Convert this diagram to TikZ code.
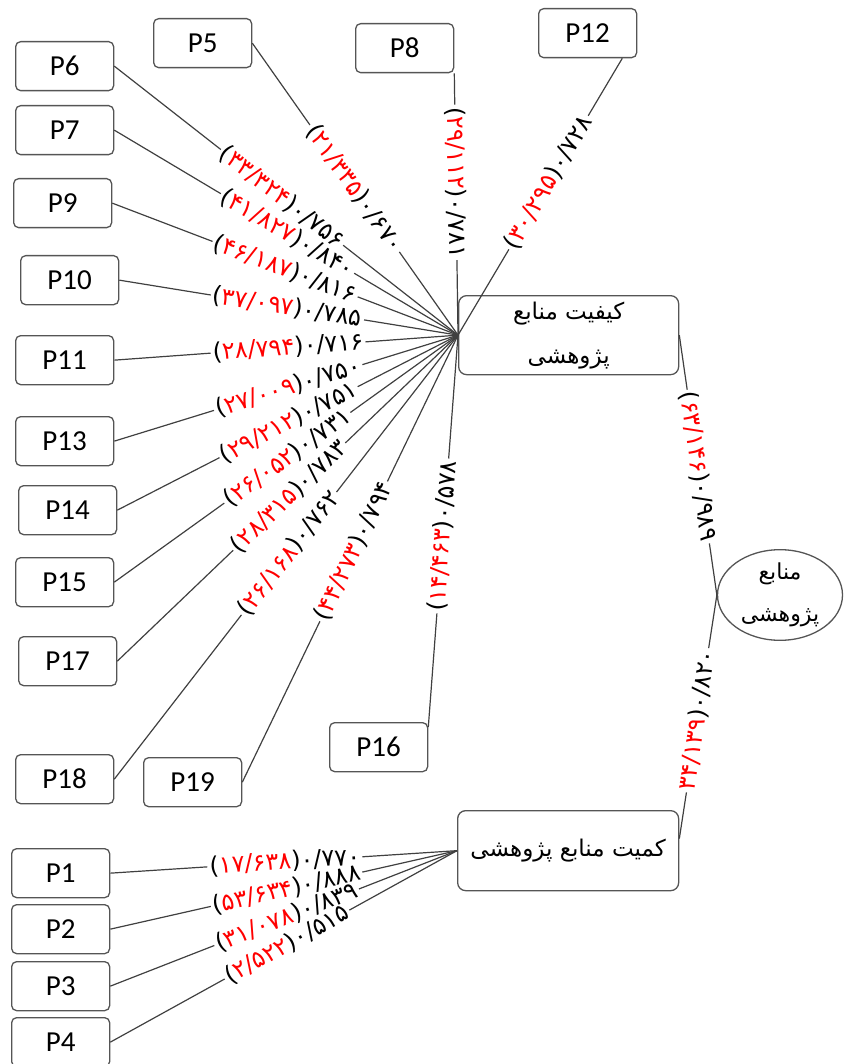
\documentclass[tikz,border=0pt]{standalone}
\usepackage{fontspec}
\usetikzlibrary{shapes.geometric}
\setmainfont{Carlito}
\newfontfamily\fa[Script=Arabic]{DejaVu Sans}
\newfontfamily\dig{DejaVu Sans}
\TeXXeTstate=1
\definecolor{edgegray}{HTML}{404040}
\definecolor{framegray}{HTML}{555555}
\definecolor{valred}{HTML}{FF0000}
% loading (t-value) label: black brackets, red t-value, black loading
\newcommand\val[2]{(\textcolor{valred}{#1})#2}
% connector with a sloped label that interrupts the line
\newcommand\vlink[5]{%
  \path (#1) -- (#2) node[lab,pos=#3] (#4) {#5};
  \draw[conn] (#1) -- (#4.west) (#4.east) -- (#2);}
\begin{document}
\begin{tikzpicture}[x=1pt,y=-1pt,
  pbox/.style={draw=framegray, line width=1.3pt, rounded corners=5pt,
    minimum width=98pt, minimum height=49pt, inner sep=0pt,
    anchor=north west, font=\fontsize{29}{32}\selectfont},
  mbox/.style={draw=framegray, line width=1.3pt, rounded corners=8pt,
    inner sep=0pt, anchor=north west, align=center,
    font=\fa\fontsize{23}{44}\selectfont},
  conn/.style={draw=edgegray, line width=1.2pt},
  lab/.style={font=\dig\fontsize{24}{26}\selectfont, inner sep=2pt,
    sloped, anchor=west}]
\useasboundingbox (0,0) rectangle (843,1064);

% indicator boxes
\node[pbox] (P5)  at (153,18)  {P5};
\node[pbox] (P6)  at (15,41)   {P6};
\node[pbox] (P8)  at (355,23)  {P8};
\node[pbox] (P12) at (538,8)   {P12};
\node[pbox] (P7)  at (15,105)  {P7};
\node[pbox] (P9)  at (13,178)  {P9};
\node[pbox] (P10) at (20,255)  {P10};
\node[pbox] (P11) at (15,335)  {P11};
\node[pbox] (P13) at (15,416)  {P13};
\node[pbox] (P14) at (18,485)  {P14};
\node[pbox] (P15) at (15,557)  {P15};
\node[pbox] (P17) at (18,636)  {P17};
\node[pbox] (P16) at (329,722) {P16};
\node[pbox] (P18) at (15,754)  {P18};
\node[pbox] (P19) at (143,757) {P19};
\node[pbox] (P1)  at (11,848)  {P1};
\node[pbox] (P2)  at (11,904)  {P2};
\node[pbox] (P3)  at (11,961)  {P3};
\node[pbox] (P4)  at (11,1017) {P4};

% construct boxes
\node[mbox, minimum width=220pt, minimum height=79pt] (q) at (458,295)
  {\beginR کیفیت منابع\endR\\\beginR پژوهشی\endR};
\node[mbox, minimum width=221pt, minimum height=80pt] (c) at (457,810)
  {\beginR کمیت منابع پژوهشی\endR};
\node[draw=framegray, line width=1.3pt, ellipse, minimum width=125pt,
  minimum height=83pt, inner sep=0pt, align=center,
  font=\fa\fontsize{22}{42}\selectfont] (e) at (780,595)
  {\beginR منابع\endR\\\beginR پژوهشی\endR};

\coordinate (h1) at (q.west);
\coordinate (h2) at (c.west);
\coordinate (s8) at (P8.south east);
\coordinate (s12) at ([xshift=-15pt]P12.south east);
\coordinate (s16) at ([yshift=-5pt]P16.north east);
\coordinate (qe) at (q.east);
\coordinate (ce) at ([yshift=12pt]c.east);
\coordinate (ew) at (e.west);

% quality indicators
\vlink{P5.east}{h1}{.28}{L5}{\val{۲۱/۳۳۵}{۰/۶۷۰}}
\vlink{P6.east}{h1}{.31}{L6}{\val{۳۳/۳۲۴}{۰/۷۵۶}}
\vlink{P7.east}{h1}{.31}{L7}{\val{۴۱/۸۲۷}{۰/۸۴۰}}
\vlink{P9.east}{h1}{.29}{L9}{\val{۴۶/۱۸۷}{۰/۸۱۶}}
\vlink{P10.east}{h1}{.27}{L10}{\val{۳۷/۰۹۷}{۰/۷۸۵}}
\vlink{P11.east}{h1}{.28}{L11}{\val{۲۸/۷۹۴}{۰/۷۱۶}}
\vlink{P13.east}{h1}{.29}{L13}{\val{۲۷/۰۰۹}{۰/۷۵۰}}
\vlink{P14.east}{h1}{.30}{L14}{\val{۲۹/۲۱۲}{۰/۷۵۱}}
\vlink{P15.east}{h1}{.32}{L15}{\val{۲۶/۰۵۲}{۰/۷۳۱}}
\vlink{P17.east}{h1}{.34}{L17}{\val{۲۸/۳۱۵}{۰/۷۸۳}}
\vlink{P18.east}{h1}{.37}{L18}{\val{۲۶/۱۶۸}{۰/۷۶۲}}
\vlink{P19.east}{h1}{.36}{L19}{\val{۴۴/۲۷۳}{۰/۷۹۴}}
\vlink{s16}{h1}{.29}{L16}{\val{۱۴/۴۶۳}{۰/۵۷۸}}
\vlink{s8}{h1}{.12}{L8}{\val{۲۹/۱۱۲}{۰/۷۸۱}}
\vlink{h1}{s12}{.31}{L12}{\val{۳۰/۲۹۵}{۰/۷۲۸}}

% quantity indicators
\vlink{P1.east}{h2}{.28}{L1}{\val{۱۷/۶۳۸}{۰/۷۷۰}}
\vlink{P2.east}{h2}{.29}{L2}{\val{۵۳/۶۳۴}{۰/۸۸۸}}
\vlink{P3.east}{h2}{.30}{L3}{\val{۳۱/۰۷۸}{۰/۸۳۹}}
\vlink{P4.east}{h2}{.33}{L4}{\val{۲/۵۲۲}{۰/۵۱۵}}

% second-order paths
\vlink{qe}{ew}{.21}{Lq}{\val{۶۳/۱۴۶}{۰/۹۸۹}}
\vlink{ce}{ew}{.19}{Lc}{\textcolor{valred}{۳۴/۱۳۹})۰/۸۲۰}
\end{tikzpicture}
\end{document}
